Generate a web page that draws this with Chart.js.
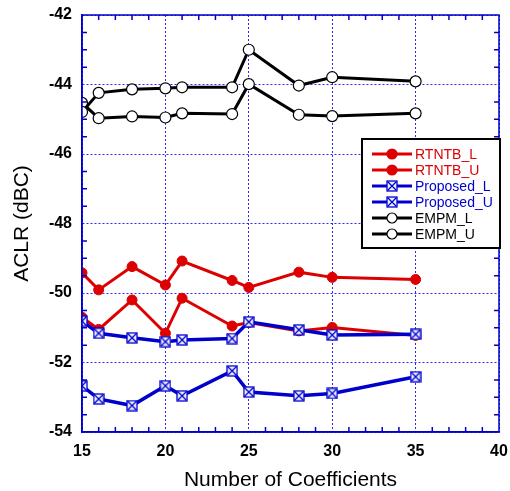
<!DOCTYPE html>
<html><head><meta charset="utf-8">
<script src="https://cdn.jsdelivr.net/npm/chart.js@4"></script>
<style>html,body{margin:0;padding:0;background:#fff}canvas{display:block}</style>
</head><body><canvas id="c" width="510" height="491"></canvas>
<script>
const coefficients = [15,16,18,20,21,24,25,28,30,35];
const rtntbL = [-49.42,-49.91,-49.24,-49.77,-49.08,-49.64,-49.84,-49.40,-49.55,-49.61];
const rtntbU = [-50.70,-51.05,-50.20,-51.16,-50.15,-50.95,-50.85,-51.09,-50.99,-51.22];
const proposedL = [-50.81,-51.16,-51.29,-51.40,-51.35,-51.31,-50.83,-51.06,-51.21,-51.19];
const proposedU = [-52.67,-53.05,-53.24,-52.67,-52.96,-52.24,-52.85,-52.96,-52.89,-52.41];
const empmL = [-44.79,-44.24,-44.14,-44.11,-44.08,-44.08,-43.00,-44.03,-43.79,-43.91];
const empmU = [-44.53,-44.97,-44.92,-44.95,-44.83,-44.85,-43.99,-44.87,-44.91,-44.83];
const seriesNames = ['RTNTB_L','RTNTB_U','Proposed_L','Proposed_U','EMPM_L','EMPM_U'];
const xTicks = [15,20,25,30,35,40];
const yTicks = [-54,-52,-50,-48,-46,-44,-42];

const FONT = '"Liberation Sans", Arial, sans-serif';
const RED = '#dd0000', BLUE = '#0000cc', BLACK = '#000000', GRID = '#2a2aff';

function boxX(size){
  const c = document.createElement('canvas'); c.width = c.height = size;
  const g = c.getContext('2d');
  g.fillStyle = '#eef0ff'; g.fillRect(1,1,size-2,size-2);
  g.strokeStyle = BLUE; g.lineWidth = 1.3;
  g.strokeRect(1,1,size-2,size-2);
  g.beginPath(); g.moveTo(1.5,1.5); g.lineTo(size-1.5,size-1.5);
  g.moveTo(size-1.5,1.5); g.lineTo(1.5,size-1.5); g.stroke();
  return c;
}
const boxMarker = boxX(12);

const pts = arr => coefficients.map((x,i)=>({x, y: arr[i]}));
function ds(label, data, color, kind, order){
  const base = {label, data: pts(data), borderColor: color, borderWidth: 3, showLine: true, tension: 0, order};
  if (kind==='fill') return Object.assign(base,{pointStyle:'circle', pointRadius:5, pointBackgroundColor:color, pointBorderColor:color, pointBorderWidth:1});
  if (kind==='open') return Object.assign(base,{pointStyle:'circle', pointRadius:5.5, pointBackgroundColor:'#fff', pointBorderColor:'#000', pointBorderWidth:1.2});
  return Object.assign(base,{borderWidth:3.5, pointStyle: boxMarker, pointRadius:6});
}

const frameAndLegend = {
  id:'frameAndLegend',
  afterDatasetsDraw(chart){
    const {ctx, chartArea:a, scales:{x,y}} = chart;
    ctx.save();
    ctx.strokeStyle = BLUE; ctx.lineWidth = 1.5;
    ctx.beginPath();
    for (let v=16; v<40; v++){ if (v%5===0) continue; const px=x.getPixelForValue(v);
      ctx.moveTo(px,a.bottom); ctx.lineTo(px,a.bottom-5); ctx.moveTo(px,a.top); ctx.lineTo(px,a.top+5); }
    for (let v=-53.5; v<-42; v+=0.5){ if (Math.abs(v%2)<1e-9) continue; const py=y.getPixelForValue(v);
      ctx.moveTo(a.left,py); ctx.lineTo(a.left+5,py); ctx.moveTo(a.right,py); ctx.lineTo(a.right-5,py); }
    ctx.stroke();
    ctx.strokeRect(a.left,a.top,a.right-a.left,a.bottom-a.top);
    ctx.restore();
  },
  afterDraw(chart){
    const ctx = chart.ctx;
    ctx.save();
    const L=362,T=139,R=500,B=248;
    ctx.fillStyle='#fff'; ctx.fillRect(L,T,R-L,B-T);
    ctx.strokeStyle='#000'; ctx.lineWidth=2; ctx.strokeRect(L,T,R-L,B-T);
    ctx.font = '14px '+FONT; ctx.textBaseline='middle'; ctx.textAlign='left';
    chart.data.datasets.forEach((d,i)=>{
      const yy = 154 + i*16;
      ctx.strokeStyle=d.borderColor; ctx.lineWidth=3;
      ctx.beginPath(); ctx.moveTo(372,yy); ctx.lineTo(412,yy); ctx.stroke();
      if (d.pointStyle==='circle'){
        ctx.beginPath(); ctx.arc(392,yy,5,0,Math.PI*2);
        ctx.fillStyle=d.pointBackgroundColor; ctx.fill();
        ctx.lineWidth=1.2; ctx.strokeStyle=d.pointBorderColor; ctx.stroke();
      } else {
        ctx.drawImage(boxMarker, 392-6, yy-6);
      }
      ctx.fillStyle=d.borderColor; ctx.fillText(d.label, 415, yy+1);
    });
    ctx.restore();
  }
};

new Chart(document.getElementById('c'), {
  type:'scatter',
  data:{ datasets:[
    ds(seriesNames[0], rtntbL, RED, 'fill', 3),
    ds(seriesNames[1], rtntbU, RED, 'fill', 3),
    ds(seriesNames[2], proposedL, BLUE, 'box', 2),
    ds(seriesNames[3], proposedU, BLUE, 'box', 2),
    ds(seriesNames[4], empmL, BLACK, 'open', 1),
    ds(seriesNames[5], empmU, BLACK, 'open', 1)
  ]},
  options:{
    responsive:false, animation:false, devicePixelRatio:1,
    layout:{padding:{top:15,right:11,left:0,bottom:0}},
    plugins:{legend:{display:false}, tooltip:{enabled:false}},
    scales:{
      x:{type:'linear', min:15, max:40,
        afterBuildTicks: s=>{ s.ticks = xTicks.map(v=>({value:v})); },
        afterFit: s=>{ s.height = 59; s.paddingLeft = 0; s.paddingRight = 0; },
        ticks:{font:{family:FONT,size:16,weight:'bold'}, color:'#000', padding:10, maxRotation:0, autoSkip:false},
        grid:{color:GRID, lineWidth:1, drawTicks:false},
        border:{display:true, color:BLUE, width:1.5, dash:[2,2]},
        title:{display:true, text:'Number of Coefficients', font:{family:FONT,size:21}, color:'#000', padding:{top:0,bottom:-2}}
      },
      y:{type:'linear', min:-54, max:-42,
        afterBuildTicks: s=>{ s.ticks = yTicks.map(v=>({value:v})); },
        afterFit: s=>{ s.width = 82; s.paddingTop = 0; s.paddingBottom = 0; },
        ticks:{font:{family:FONT,size:16,weight:'bold'}, color:'#000', padding:10, autoSkip:false},
        grid:{color:GRID, lineWidth:1, drawTicks:false},
        border:{display:true, color:BLUE, width:1.5, dash:[2,2]},
        title:{display:true, text:'ACLR (dBC)', font:{family:FONT,size:21}, color:'#000', padding:{top:10,bottom:0}}
      }
    }
  },
  plugins:[frameAndLegend]
});
</script></body></html>
